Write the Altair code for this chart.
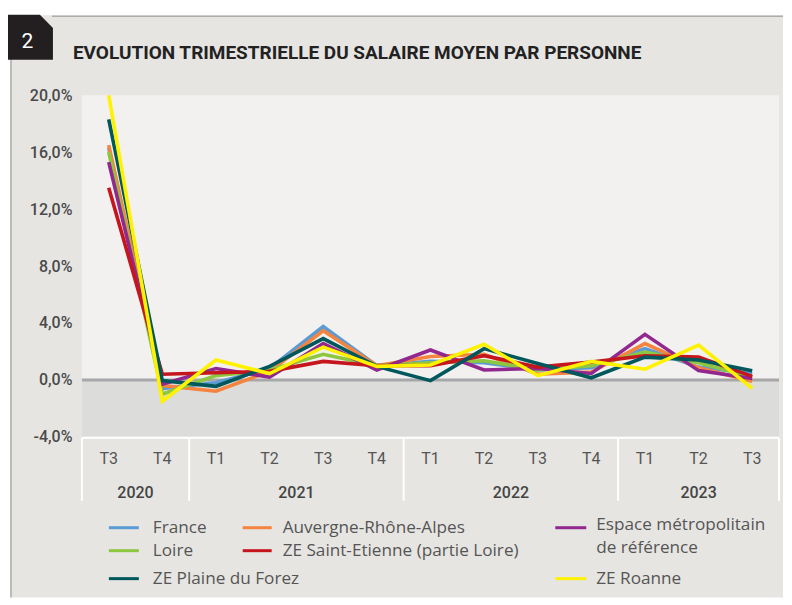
import altair as alt
import pandas as pd

# ---------------- data ----------------
quarters = ["T3", "T4", "T1", "T2", "T3", "T4", "T1", "T2", "T3", "T4", "T1", "T2", "T3"]
years = ["2020", "2020", "2021", "2021", "2021", "2021", "2022", "2022", "2022", "2022", "2023", "2023", "2023"]

series_names = [
    "France",
    "Auvergne-Rhône-Alpes",
    "Loire",
    "Espace métropolitain de référence",
    "ZE Saint-Etienne (partie Loire)",
    "ZE Plaine du Forez",
    "ZE Roanne",
]
series_colors = ["#5b9bd5", "#f4843f", "#8dc63f", "#92278f", "#c4161c", "#00575c", "#fff200"]

france = [16.3, -0.6, -0.2, 0.8, 3.75, 1.0, 1.3, 1.2, 0.7, 0.85, 2.2, 0.9, 0.45]
ara = [16.5, -0.4, -0.8, 0.6, 3.45, 1.0, 1.65, 1.8, 0.4, 0.55, 2.55, 0.85, -0.1]
loire = [16.0, -1.0, 0.3, 0.7, 1.8, 1.0, 1.2, 1.35, 0.7, 1.0, 1.95, 1.2, 0.2]
espace = [15.3, -0.3, 0.8, 0.2, 2.55, 0.7, 2.1, 0.7, 0.8, 0.45, 3.2, 0.65, 0.1]
ze_st_etienne = [13.5, 0.4, 0.5, 0.6, 1.3, 1.0, 1.0, 1.7, 0.9, 1.25, 1.7, 1.6, 0.25]
ze_plaine = [18.3, -0.05, -0.45, 0.95, 2.9, 0.95, -0.05, 2.2, 1.15, 0.15, 1.6, 1.4, 0.65]
ze_roanne = [20.0, -1.5, 1.4, 0.45, 2.3, 0.95, 1.05, 2.5, 0.3, 1.3, 0.75, 2.45, -0.6]
series_values = [france, ara, loire, espace, ze_st_etienne, ze_plaine, ze_roanne]

y_ticks = [-4, 0, 4, 8, 12, 16, 20]

# ---------------- layout ----------------
W, H = 698, 342
FONT = "Roboto"
LEG_FONT = "Open Sans"
TEXT_GREY = "#555555"

idx = list(range(len(quarters)))
x_scale = alt.Scale(domain=[-0.5, len(quarters) - 0.5], nice=False, zero=False)
y_scale = alt.Scale(domain=[-4, 20], nice=False, zero=False)
color_scale = alt.Scale(domain=series_names, range=series_colors)

one = pd.DataFrame({"a": [0]})

# panel background & frame
panel = alt.Chart(one).mark_rect(color="#e6e5e2").encode(
    x=alt.value(-72), x2=alt.value(702), y=alt.value(-80), y2=alt.value(503)
)
top_border = alt.Chart(one).mark_rule(color="#adadad", strokeWidth=1.5).encode(
    x=alt.value(-30), x2=alt.value(702), y=alt.value(-79)
)
left_border = alt.Chart(one).mark_rule(color="#adadad", strokeWidth=1.5).encode(
    x=alt.value(-71), y=alt.value(-36), y2=alt.value(503)
)

# plot backgrounds
pos_df = pd.DataFrame({"lo": [0], "hi": [20]})
neg_df = pd.DataFrame({"lo": [-4], "hi": [0]})
plot_bg_pos = alt.Chart(pos_df).mark_rect(color="#f2f1ef").encode(
    x=alt.value(0), x2=alt.value(W),
    y=alt.Y("lo:Q", scale=y_scale,
            axis=alt.Axis(values=y_ticks,
                          labelExpr="replace(replace(format(datum.value, '.1f'), '.', ','), '\u2212', '-') + '%'",
                          domain=False, ticks=False, grid=False, labelPadding=10,
                          labelFont=FONT, labelFontSize=16, labelFontWeight=500,
                          labelColor="#4a4a4a", title=None, zindex=1)),
    y2="hi:Q",
)
plot_bg_neg = alt.Chart(neg_df).mark_rect(color="#dcdcdb").encode(
    x=alt.value(0), x2=alt.value(W),
    y=alt.Y("lo:Q", scale=y_scale), y2="hi:Q",
)
zero_line = alt.Chart(pd.DataFrame({"z": [0]})).mark_rule(color="#a7a7aa", strokeWidth=3).encode(
    y=alt.Y("z:Q", scale=y_scale), x=alt.value(0), x2=alt.value(W)
)

# series lines
line_layers = []
for name, vals in zip(series_names, series_values):
    d = pd.DataFrame({"idx": idx, "value": vals, "serie": name})
    line_layers.append(
        alt.Chart(d).mark_line(strokeWidth=3.6).encode(
            x=alt.X("idx:Q", scale=x_scale, axis=None),
            y=alt.Y("value:Q", scale=y_scale),
            color=alt.Color("serie:N", scale=color_scale, legend=None),
        )
    )

# x axis (two rows)
q_df = pd.DataFrame({"idx": idx, "q": quarters})
q_labels = alt.Chart(q_df).mark_text(font=FONT, fontSize=16, color=TEXT_GREY, baseline="middle").encode(
    x=alt.X("idx:Q", scale=x_scale), y=alt.value(364), text="q:N"
)
yr_df = pd.DataFrame({"idx": idx, "year": years}).groupby("year", as_index=False)["idx"].mean()
yr_labels = alt.Chart(yr_df).mark_text(font=FONT, fontSize=16, fontWeight=500, color="#444444", baseline="middle").encode(
    x=alt.X("idx:Q", scale=x_scale), y=alt.value(398), text="year:N"
)
bounds = [-0.5] + [i - 0.5 for i in range(1, len(years)) if years[i] != years[i - 1]] + [len(years) - 0.5]
sep_df = pd.DataFrame({"b": bounds})
separators = alt.Chart(sep_df).mark_rule(color="white", strokeWidth=2).encode(
    x=alt.X("b:Q", scale=x_scale), y=alt.value(H + 1), y2=alt.value(406)
)
axis_line = alt.Chart(one).mark_rule(color="white", strokeWidth=2).encode(
    x=alt.value(0), x2=alt.value(W), y=alt.value(H + 1)
)

# custom legend
legend_pos = {
    "France": (27, 57, 71, 433),
    "Auvergne-Rhône-Alpes": (161, 190, 201, 433),
    "Espace métropolitain de référence": (474, 505, 515, 433),
    "Loire": (27, 57, 71, 456),
    "ZE Saint-Etienne (partie Loire)": (161, 190, 201, 456),
    "ZE Plaine du Forez": (27, 57, 71, 484),
    "ZE Roanne": (474, 505, 515, 484),
}
legend_layers = []
for name, col in zip(series_names, series_colors):
    x1, x2, tx, ty = legend_pos[name]
    legend_layers.append(
        alt.Chart(one).mark_rule(color=col, strokeWidth=3).encode(
            x=alt.value(x1), x2=alt.value(x2), y=alt.value(ty)
        )
    )
    if name.startswith("Espace"):
        txt = alt.Chart(one).mark_text(
            text=["Espace métropolitain", "de référence"], align="left", baseline="top",
            lineHeight=23, font=LEG_FONT, fontSize=17.2, color=TEXT_GREY
        ).encode(x=alt.value(tx), y=alt.value(ty - 11.5))
    else:
        txt = alt.Chart(one).mark_text(
            text=name, align="left", baseline="middle", font=LEG_FONT, fontSize=17.2, color=TEXT_GREY
        ).encode(x=alt.value(tx), y=alt.value(ty))
    legend_layers.append(txt)

# title and number badge
title = alt.Chart(one).mark_text(
    text="EVOLUTION TRIMESTRIELLE DU SALAIRE MOYEN PAR PERSONNE", align="left", baseline="middle",
    font=FONT, fontSize=19, fontWeight="bold", color="#222222"
).encode(x=alt.value(-9), y=alt.value(-42))
badge = alt.Chart(one).mark_point(
    shape="M-1,-1L0.42,-1L1,-0.42L1,1L-1,1Z", size=2025, filled=True, fill="#231f20", opacity=1
).encode(x=alt.value(-51.5), y=alt.value(-58))
badge_txt = alt.Chart(one).mark_text(
    text="2", align="center", baseline="middle", font=FONT, fontSize=21, color="white"
).encode(x=alt.value(-54.5), y=alt.value(-53))

chart = alt.layer(
    panel, top_border, left_border, plot_bg_pos, plot_bg_neg, zero_line, *line_layers,
    axis_line, separators, q_labels, yr_labels, *legend_layers, title, badge, badge_txt
).properties(
    width=W, height=H,
    padding={"left": 0, "top": 6, "right": 0, "bottom": 0},
    background="white",
).configure_view(stroke=None)

chart.save("out.html", embed_options={"renderer": "svg", "actions": False})
